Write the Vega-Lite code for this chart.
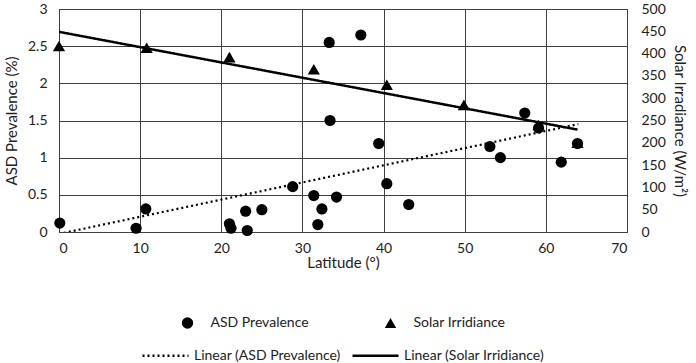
{
  "$schema": "https://vega.github.io/schema/vega-lite/v6.json",
  "width": 568,
  "height": 223,
  "autosize": {"type": "none"},
  "padding": {"left": 59, "top": 9, "right": 69, "bottom": 131},
  "background": "white",
  "datasets": {
    "asd": [
      {"lat": 0.1, "value": 0.12, "series": "ASD Prevalence", "trend": "Linear (ASD Prevalence)"},
      {"lat": 9.5, "value": 0.05, "series": "ASD Prevalence", "trend": "Linear (ASD Prevalence)"},
      {"lat": 10.7, "value": 0.31, "series": "ASD Prevalence", "trend": "Linear (ASD Prevalence)"},
      {"lat": 21.0, "value": 0.11, "series": "ASD Prevalence", "trend": "Linear (ASD Prevalence)"},
      {"lat": 21.2, "value": 0.05, "series": "ASD Prevalence", "trend": "Linear (ASD Prevalence)"},
      {"lat": 23.2, "value": 0.02, "series": "ASD Prevalence", "trend": "Linear (ASD Prevalence)"},
      {"lat": 23.0, "value": 0.28, "series": "ASD Prevalence", "trend": "Linear (ASD Prevalence)"},
      {"lat": 25.0, "value": 0.3, "series": "ASD Prevalence", "trend": "Linear (ASD Prevalence)"},
      {"lat": 28.8, "value": 0.61, "series": "ASD Prevalence", "trend": "Linear (ASD Prevalence)"},
      {"lat": 31.4, "value": 0.49, "series": "ASD Prevalence", "trend": "Linear (ASD Prevalence)"},
      {"lat": 31.9, "value": 0.1, "series": "ASD Prevalence", "trend": "Linear (ASD Prevalence)"},
      {"lat": 32.4, "value": 0.31, "series": "ASD Prevalence", "trend": "Linear (ASD Prevalence)"},
      {"lat": 34.2, "value": 0.47, "series": "ASD Prevalence", "trend": "Linear (ASD Prevalence)"},
      {"lat": 33.3, "value": 2.55, "series": "ASD Prevalence", "trend": "Linear (ASD Prevalence)"},
      {"lat": 33.4, "value": 1.5, "series": "ASD Prevalence", "trend": "Linear (ASD Prevalence)"},
      {"lat": 37.2, "value": 2.65, "series": "ASD Prevalence", "trend": "Linear (ASD Prevalence)"},
      {"lat": 39.4, "value": 1.19, "series": "ASD Prevalence", "trend": "Linear (ASD Prevalence)"},
      {"lat": 40.4, "value": 0.65, "series": "ASD Prevalence", "trend": "Linear (ASD Prevalence)"},
      {"lat": 43.1, "value": 0.37, "series": "ASD Prevalence", "trend": "Linear (ASD Prevalence)"},
      {"lat": 53.1, "value": 1.15, "series": "ASD Prevalence", "trend": "Linear (ASD Prevalence)"},
      {"lat": 54.4, "value": 1.0, "series": "ASD Prevalence", "trend": "Linear (ASD Prevalence)"},
      {"lat": 57.4, "value": 1.6, "series": "ASD Prevalence", "trend": "Linear (ASD Prevalence)"},
      {"lat": 59.1, "value": 1.4, "series": "ASD Prevalence", "trend": "Linear (ASD Prevalence)"},
      {"lat": 61.9, "value": 0.94, "series": "ASD Prevalence", "trend": "Linear (ASD Prevalence)"},
      {"lat": 63.9, "value": 1.19, "series": "ASD Prevalence", "trend": "Linear (ASD Prevalence)"}
    ],
    "solar": [
      {"lat": 0.0, "value": 417, "series": "Solar Irridiance", "trend": "Linear (Solar Irridiance)"},
      {"lat": 10.8, "value": 413, "series": "Solar Irridiance", "trend": "Linear (Solar Irridiance)"},
      {"lat": 21.0, "value": 392, "series": "Solar Irridiance", "trend": "Linear (Solar Irridiance)"},
      {"lat": 31.4, "value": 365, "series": "Solar Irridiance", "trend": "Linear (Solar Irridiance)"},
      {"lat": 40.4, "value": 330, "series": "Solar Irridiance", "trend": "Linear (Solar Irridiance)"},
      {"lat": 49.9, "value": 285, "series": "Solar Irridiance", "trend": "Linear (Solar Irridiance)"},
      {"lat": 59.1, "value": 240, "series": "Solar Irridiance", "trend": "Linear (Solar Irridiance)"},
      {"lat": 63.9, "value": 200, "series": "Solar Irridiance", "trend": "Linear (Solar Irridiance)"}
    ]
  },
  "layer": [
    {
      "layer": [
        {
          "data": {"name": "asd"},
          "mark": {"type": "point", "filled": true, "color": "#000", "opacity": 1, "size": 125},
          "encoding": {
            "x": {"field": "lat", "type": "quantitative"},
            "y": {"field": "value", "type": "quantitative"},
            "shape": {
              "field": "series", "type": "nominal",
              "scale": {"domain": ["ASD Prevalence", "Solar Irridiance"], "range": ["circle", "triangle-up"]},
              "legend": {"symbolSize": 130, "labelOffset": 16, "columnPadding": 74, "symbolFillColor": "#000", "symbolStrokeWidth": 0}
            }
          }
        },
        {
          "data": {"name": "asd"},
          "transform": [{"regression": "value", "on": "lat", "groupby": ["trend"], "extent": [0, 64]}],
          "mark": {"type": "line", "color": "#000", "strokeWidth": 2.2, "clip": true},
          "encoding": {
            "x": {"field": "lat", "type": "quantitative"},
            "y": {"field": "value", "type": "quantitative"},
            "strokeDash": {
              "field": "trend", "type": "nominal",
              "scale": {"domain": ["Linear (ASD Prevalence)", "Linear (Solar Irridiance)"], "range": [[2, 3], [1, 0]]},
              "legend": {"symbolSize": 2116, "symbolStrokeWidth": 2.5, "labelOffset": 4, "columnPadding": 6, "symbolStrokeColor": "#000"}
            }
          }
        }
      ],
      "encoding": {
        "x": {
          "field": "lat", "type": "quantitative",
          "scale": {"domain": [0, 70], "nice": false},
          "axis": {"title": "Latitude (°)", "values": [0, 10, 20, 30, 40, 50, 60, 70], "titlePadding": 0, "labelPadding": 9}
        },
        "y": {
          "field": "value", "type": "quantitative",
          "scale": {"domain": [0, 3], "nice": false},
          "axis": {"title": "ASD Prevalence (%)", "values": [0, 0.5, 1, 1.5, 2, 2.5, 3], "format": "~g", "orient": "left", "titlePadding": 8, "labelPadding": 12}
        }
      }
    },
    {
      "layer": [
        {
          "data": {"name": "solar"},
          "mark": {"type": "point", "filled": true, "color": "#000", "opacity": 1, "size": 150},
          "encoding": {
            "x": {"field": "lat", "type": "quantitative"},
            "y": {"field": "value", "type": "quantitative"},
            "shape": {"field": "series", "type": "nominal"}
          }
        },
        {
          "data": {"name": "solar"},
          "transform": [{"regression": "value", "on": "lat", "groupby": ["trend"]}],
          "mark": {"type": "line", "color": "#000", "strokeWidth": 2.5, "clip": true},
          "encoding": {
            "x": {"field": "lat", "type": "quantitative"},
            "y": {"field": "value", "type": "quantitative"},
            "strokeDash": {"field": "trend", "type": "nominal"}
          }
        }
      ],
      "encoding": {
        "y": {
          "field": "value", "type": "quantitative",
          "scale": {"domain": [0, 500], "nice": false},
          "axis": {"title": "Solar Irradiance (W/m²)", "orient": "right", "grid": false, "values": [0, 50, 100, 150, 200, 250, 300, 350, 400, 450, 500], "titlePadding": 6, "labelPadding": 14}
        }
      }
    }
  ],
  "resolve": {"scale": {"y": "independent"}},
  "config": {
    "font": "Lato",
    "view": {"stroke": "#404040", "strokeWidth": 1},
    "axis": {
      "grid": true,
      "gridColor": "#404040",
      "gridOpacity": 1,
      "gridWidth": 1,
      "domain": false,
      "ticks": false,
      "labelFontSize": 14,
      "labelColor": "#222",
      "titleFontSize": 15,
      "titleFontWeight": "normal",
      "titleColor": "#222"
    },
    "axisY": {"domain": true, "domainColor": "#404040"},
    "axisX": {"domain": true, "domainColor": "#404040"},
    "legend": {
      "orient": "bottom",
      "title": null,
      "direction": "horizontal",
      "columns": 2,
      "labelFontSize": 14,
      "labelColor": "#222",
      "offset": 46,
      "layout": {"bottom": {"anchor": "middle", "direction": "vertical", "margin": 1, "center": true}}
    }
  }
}
